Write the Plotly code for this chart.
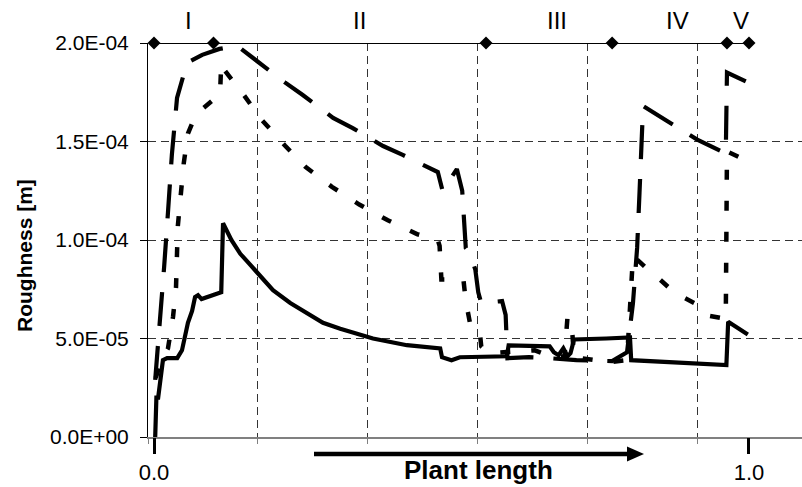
import plotly.graph_objects as go

# ------------------------------------------------------------------ data
# Region boundaries along the (normalised) plant length, drawn at y = 2.0E-04
region_bounds = [0.0, 0.1, 0.558, 0.770, 0.963, 1.0]
region_level = 2.0e-4
region_names = ["I", "II", "III", "IV", "V"]

E5 = 1e-5  # values below are given in units of 1E-05 m

# Solid curve
solid_x = [0.002, 0.004, 0.007, 0.015, 0.022, 0.039, 0.047, 0.057, 0.064, 0.069,
           0.074, 0.080, 0.113, 0.116, 0.130, 0.145, 0.160, 0.174, 0.200, 0.229,
           0.257, 0.284, 0.313, 0.368, 0.425, 0.481, 0.484, 0.500, 0.514, 0.536,
           0.593, 0.596, 0.665, 0.672, 0.680, 0.688, 0.695, 0.700, 0.706, 0.760,
           0.800, 0.802, 0.880, 0.962, 0.965, 0.980, 0.998]
solid_y = [0.0, 2.0, 2.0, 3.9, 4.0, 4.0, 4.4, 5.8, 6.4, 7.1,
           7.2, 7.0, 7.35, 10.85, 10.0, 9.3, 8.8, 8.3, 7.45, 6.8,
           6.3, 5.8, 5.5, 5.0, 4.66, 4.5, 4.05, 3.9, 4.05, 4.05,
           4.1, 4.65, 4.6, 4.3, 4.15, 4.5, 4.1, 4.25, 4.95, 5.0,
           5.05, 3.9, 3.8, 3.65, 5.85, 5.55, 5.2]

# Long-dash curve
longdash_x = [0.002, 0.010, 0.017, 0.0235, 0.030, 0.0387, 0.0555, 0.081, 0.110, 0.140,
              0.170, 0.220, 0.250, 0.301, 0.334, 0.385, 0.418, 0.477, 0.485, 0.509,
              0.518, 0.521, 0.524, 0.530, 0.540, 0.545, 0.550, 0.585, 0.591, 0.594,
              0.630, 0.665, 0.690, 0.710, 0.770, 0.795, 0.805, 0.812, 0.816, 0.820,
              0.822, 0.859, 0.913, 0.961, 0.963, 0.998]
longdash_y = [2.9, 5.78, 8.62, 11.42, 14.32, 17.21, 18.99, 19.4, 19.7, 19.85,
              19.15, 18.0, 17.36, 16.2, 15.68, 14.77, 14.32, 13.45, 12.5, 13.6,
              12.5, 10.7, 9.6, 9.4, 8.5, 7.35, 6.8, 6.9, 6.2, 4.0,
              4.05, 4.0, 3.95, 3.9, 3.85, 4.3, 6.8, 9.6, 12.4, 15.2,
              16.8, 16.1, 15.1, 14.4, 18.5, 18.0]

# Short-dash curve
dash_x = [0.003, 0.012, 0.0235, 0.032, 0.037, 0.0387, 0.040, 0.045, 0.050, 0.057,
          0.068, 0.079, 0.100, 0.111, 0.113, 0.119, 0.150, 0.181, 0.220, 0.255,
          0.299, 0.345, 0.393, 0.442, 0.477, 0.480, 0.483, 0.520, 0.524, 0.531,
          0.547, 0.550, 0.561, 0.600, 0.640, 0.670, 0.690, 0.695, 0.703, 0.706,
          0.765, 0.795, 0.805, 0.837, 0.850, 0.876, 0.921, 0.934, 0.961, 0.963,
          0.998]
dash_y = [3.0, 3.9, 4.5, 6.1, 7.6, 9.1, 10.7, 12.3, 13.9, 15.4,
          16.2, 16.6, 17.1, 17.4, 19.0, 18.6, 17.4, 16.1, 14.8, 13.7,
          12.7, 11.8, 11.0, 10.3, 10.0, 9.7, 8.0, 8.0, 6.9, 5.8,
          5.5, 4.6, 4.25, 4.3, 4.4, 4.05, 4.1, 6.1, 5.3, 4.05,
          3.8, 3.9, 9.2, 8.3, 8.0, 7.3, 6.6, 6.15, 6.0, 14.5,
          14.0]

y_tick_vals = [0.0, 5.0e-5, 1.0e-4, 1.5e-4, 2.0e-4]
y_tick_text = ["0.0E+00", "5.0E-05", "1.0E-04", "1.5E-04", "2.0E-04"]
x_tick_vals = [0.0, 1.0]
x_tick_text = ["0.0", "1.0"]

# ------------------------------------------------------------------ layout helpers
W, H = 802, 487
ML, MR, MT, MB = 148, 0, 43, 50
PW, PH = W - ML - MR, H - MT - MB
X_LO, X_HI = -0.0101, 1.0891        # axis range
GRID_STEP = 0.18487                 # vertical grid spacing

FONT = "Liberation Sans, Arial, Helvetica, sans-serif"


def px_x(p):
    return (p - ML) / PW


def px_y(p):
    return (H - MB - p) / PH


fig = go.Figure()

fig.add_trace(go.Scatter(
    x=solid_x, y=[v * E5 for v in solid_y], mode="lines",
    line=dict(color="black", width=4.2), cliponaxis=False, showlegend=False))

fig.add_trace(go.Scatter(
    x=longdash_x, y=[v * E5 for v in longdash_y], mode="lines",
    line=dict(color="black", width=4.2, dash="34px,20px"),
    cliponaxis=False, showlegend=False))

fig.add_trace(go.Scatter(
    x=dash_x, y=[v * E5 for v in dash_y], mode="lines",
    line=dict(color="black", width=4.5, dash="10px,21px"),
    cliponaxis=False, showlegend=False))

fig.add_trace(go.Scatter(
    x=region_bounds, y=[region_level] * len(region_bounds), mode="lines+markers",
    line=dict(color="black", width=2),
    marker=dict(symbol="diamond", size=10, color="black"),
    cliponaxis=False, showlegend=False))

# invisible trace to activate overlay x-axis
fig.add_trace(go.Scatter(x=[X_LO], y=[0], xaxis="x2", mode="markers",
                         marker=dict(opacity=0), showlegend=False, hoverinfo="skip"))

grid_col = "#333333"
fig.update_layout(
    width=W, height=H,
    margin=dict(l=ML, r=MR, t=MT, b=MB, pad=0),
    paper_bgcolor="white", plot_bgcolor="white",
    font=dict(family=FONT, color="black", size=22),
    xaxis=dict(range=[X_LO, X_HI], tick0=X_LO, dtick=GRID_STEP,
               showgrid=True, gridcolor=grid_col, gridwidth=1, griddash="8px,5px",
               showticklabels=False, ticks="outside", ticklen=5, tickcolor="#808080",
               showline=True, linecolor="#808080", linewidth=2,
               zeroline=False, fixedrange=True),
    xaxis2=dict(range=[X_LO, X_HI], overlaying="x", anchor="y", side="bottom",
                tickmode="array", tickvals=x_tick_vals, ticktext=x_tick_text,
                ticks="outside", ticklen=16, tickwidth=3, tickcolor="black",
                tickfont=dict(size=22, family=FONT, color="black"),
                showgrid=False, showline=False, zeroline=False, fixedrange=True),
    yaxis=dict(range=[0, 2.0e-4], tickmode="array", tickvals=y_tick_vals,
               ticktext=y_tick_text, ticks="outside", ticklen=7, tickcolor="black",
               ticklabelstandoff=7,
               tickfont=dict(size=21, family=FONT, color="black"),
               showline=True, linecolor="black", linewidth=1,
               showgrid=True, gridcolor=grid_col, gridwidth=1, griddash="8px,5px",
               zeroline=False, fixedrange=True),
)

# region labels
label_px = [188.5, 359, 557, 677, 741]
for name, lx in zip(region_names, label_px):
    fig.add_annotation(text=name, xref="paper", yref="paper", x=px_x(lx), y=px_y(21),
                       xanchor="center", yanchor="middle", showarrow=False,
                       font=dict(size=24, family=FONT, color="black"))

# axis titles
fig.add_annotation(text="<b>Roughness [m]</b>", xref="paper", yref="paper",
                   x=px_x(24), y=px_y(256), xanchor="center", yanchor="middle",
                   textangle=-90, showarrow=False,
                   font=dict(size=21, family=FONT, color="black"))
fig.add_annotation(text="<b>Plant length</b>", xref="paper", yref="paper",
                   x=px_x(478), y=px_y(470), xanchor="center", yanchor="middle",
                   showarrow=False, font=dict(size=26, family=FONT, color="black"))

# arrow along plant length
fig.add_shape(type="line", xref="paper", yref="paper",
              x0=px_x(314), y0=px_y(454), x1=px_x(630), y1=px_y(454),
              line=dict(color="black", width=4.3))
fig.add_shape(type="path", xref="paper", yref="paper",
              path=f"M {px_x(627)},{px_y(446.5)} L {px_x(644)},{px_y(454)} "
                   f"L {px_x(627)},{px_y(461.5)} Z",
              fillcolor="black", line=dict(color="black", width=0))

fig.write_html("out.html")
